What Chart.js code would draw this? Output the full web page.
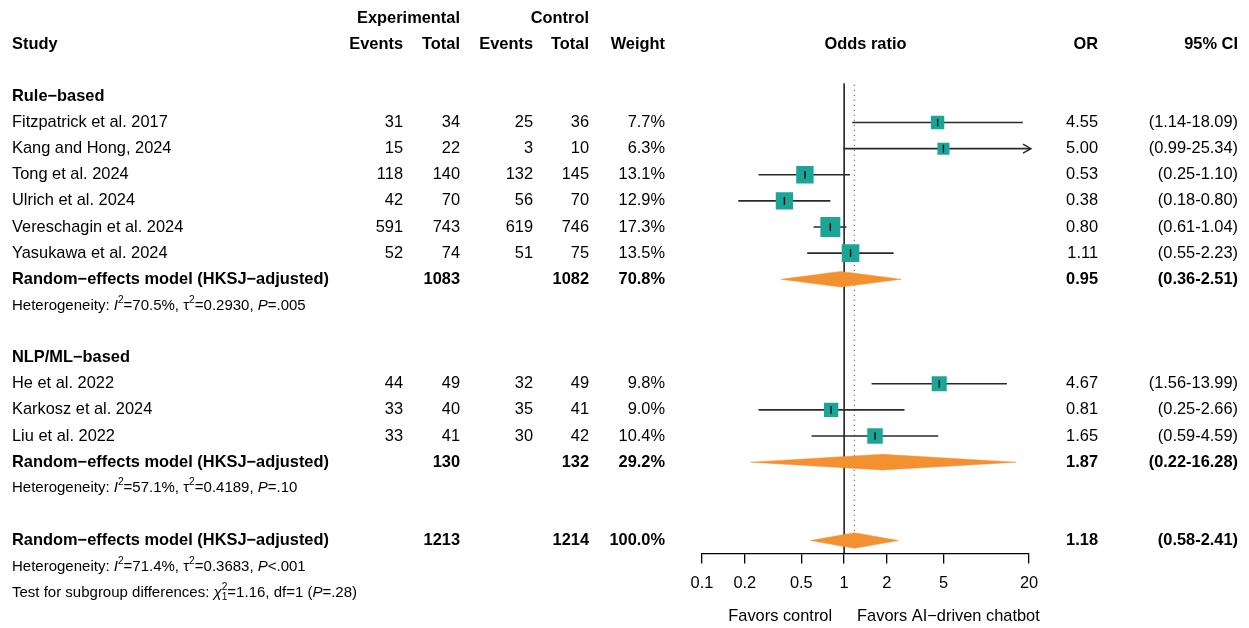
<!DOCTYPE html>
<html>
<head>
<meta charset="utf-8">
<script src="https://cdn.jsdelivr.net/npm/chart.js@4.4.1/dist/chart.umd.min.js"></script>
<style>
  html, body { margin: 0; padding: 0; background: #ffffff; }
  canvas { display: block; }
</style>
</head>
<body>
<canvas id="forest" width="1249" height="628"></canvas>
<script>
// ---- Study-level data ----
const studyNames = [
  'Fitzpatrick et al. 2017', 'Kang and Hong, 2024', 'Tong et al. 2024',
  'Ulrich et al. 2024', 'Vereschagin et al. 2024', 'Yasukawa et al. 2024',
  'He et al. 2022', 'Karkosz et al. 2024', 'Liu et al. 2022'
];
const studyGroup   = [0, 0, 0, 0, 0, 0, 1, 1, 1];
const expEvents    = [31, 15, 118, 42, 591, 52, 44, 33, 33];
const expTotals    = [34, 22, 140, 70, 743, 74, 49, 40, 41];
const ctrlEvents   = [25, 3, 132, 56, 619, 51, 32, 35, 30];
const ctrlTotals   = [36, 10, 145, 70, 746, 75, 49, 41, 42];
const weights      = [7.7, 6.3, 13.1, 12.9, 17.3, 13.5, 9.8, 9.0, 10.4];
const oddsRatios   = [4.55, 5.00, 0.53, 0.38, 0.80, 1.11, 4.67, 0.81, 1.65];
const ciLower      = [1.14, 0.99, 0.25, 0.18, 0.61, 0.55, 1.56, 0.25, 0.59];
const ciUpper      = [18.09, 25.34, 1.10, 0.80, 1.04, 2.23, 13.99, 2.66, 4.59];

// ---- Pooled estimates: [Rule-based, NLP/ML-based, overall] ----
const groupNames        = ['Rule−based', 'NLP/ML−based'];
const pooledLabel       = 'Random−effects model (HKSJ−adjusted)';
const pooledExpTotals   = [1083, 130, 1213];
const pooledCtrlTotals  = [1082, 132, 1214];
const pooledWeights     = [70.8, 29.2, 100.0];
const pooledOR          = [0.95, 1.87, 1.18];
const pooledLower       = [0.36, 0.22, 0.58];
const pooledUpper       = [2.51, 16.28, 2.41];
const hetI2             = ['70.5%', '57.1%', '71.4%'];
const hetTau2           = ['0.2930', '0.4189', '0.3683'];
const hetP              = ['=.005', '=.10', '<.001'];
const testChi2 = '1.16', testDf = '1', testP = '=.28';

// ---- Axis ----
const axisTicks = [0.1, 0.2, 0.5, 1, 2, 5, 20];
const xMin = 0.1, xMax = 20;

// ---- Row layout (row index -> vertical position via the y scale) ----
const studyRow = [], groupHeaderRow = [], pooledRow = [], hetRow = [];
let r = 3;
for (let g = 0; g < groupNames.length; g++) {
  groupHeaderRow.push(r++);
  studyNames.forEach((_, i) => { if (studyGroup[i] === g) studyRow[i] = r++; });
  pooledRow.push(r++);
  hetRow.push(r);
  r += 2;
}
pooledRow.push(r);
hetRow.push(r + 1);
const testRow = r + 2;

const FONT = '"Liberation Sans", Arial, Helvetica, sans-serif';
const FS = 16.4, FS_SMALL = 15;
const SQUARE = '#1ba596', DIAMOND = '#f39130', CI_COLOR = '#2a2a2a';
const DIAMOND_HALF = 0.3;

// column anchors (x pixels, right aligned unless noted)
const COL = { study: 12, expEv: 403, expTot: 460, ctrlEv: 533, ctrlTot: 589, weight: 665, or: 1098, ci: 1238 };

const datasets = [];

// reference lines: no effect (solid) and overall estimate (dotted)
datasets.push({
  data: [{ x: 1, y: 2.5 }, { x: 1, y: 20.5 }],
  showLine: true, borderColor: '#000', borderWidth: 1.4, pointRadius: 0, order: 6
});
datasets.push({
  data: [{ x: pooledOR[2], y: 2.55 }, { x: pooledOR[2], y: pooledRow[2] - DIAMOND_HALF }],
  showLine: true, borderColor: '#666', borderWidth: 1.1, borderDash: [1.3, 3.7], pointRadius: 0, order: 6
});

// confidence intervals
studyNames.forEach((_, i) => {
  datasets.push({
    data: [{ x: Math.max(ciLower[i], xMin), y: studyRow[i] }, { x: Math.min(ciUpper[i], xMax), y: studyRow[i] }],
    showLine: true, borderColor: CI_COLOR, borderWidth: 1.6, pointRadius: 0, order: 3
  });
});

// weighted squares (side proportional to sqrt of weight)
datasets.push({
  data: studyNames.map((_, i) => ({ x: oddsRatios[i], y: studyRow[i] })),
  showLine: false,
  pointStyle: 'rect',
  pointRadius: weights.map(w => 4.8 * Math.sqrt(w) / Math.SQRT2),
  pointBackgroundColor: SQUARE, pointBorderColor: SQUARE, pointBorderWidth: 0,
  order: 2
});

// point-estimate markers
datasets.push({
  data: studyNames.map((_, i) => ({ x: oddsRatios[i], y: studyRow[i] })),
  showLine: false,
  pointStyle: 'line', pointRotation: 90, pointRadius: 3.8,
  pointBorderColor: '#000', pointBorderWidth: 1.3,
  order: 0
});

// pooled diamonds
pooledOR.forEach((est, k) => {
  const row = pooledRow[k];
  datasets.push({
    data: [
      { x: pooledLower[k], y: row },
      { x: est, y: row - DIAMOND_HALF },
      { x: pooledUpper[k], y: row },
      { x: est, y: row + DIAMOND_HALF },
      { x: pooledLower[k], y: row }
    ],
    showLine: true, fill: 'shape', backgroundColor: DIAMOND, borderColor: DIAMOND,
    borderWidth: 0.5, pointRadius: 0, tension: 0, order: 1
  });
});

function drawRich(ctx, parts, x, y, size) {
  ctx.textAlign = 'left';
  for (const p of parts) {
    let fs = size, dy = 0, style = '';
    if (p.t === 'i') style = 'italic ';
    if (p.t === 'sup') { fs = size * 0.68; dy = -size * 0.38; }
    if (p.t === 'sub') { fs = size * 0.68; dy = size * 0.3; }
    ctx.font = `${style}${fs}px ${FONT}`;
    ctx.fillText(p.s, x, y + dy);
    if (!p.stay) x += ctx.measureText(p.s).width;
  }
}

const tablePlugin = {
  id: 'forestTable',
  afterDatasetsDraw(chart) {
    const ctx = chart.ctx, xs = chart.scales.x, ys = chart.scales.y;
    // arrowheads for intervals running past the axis limit
    ctx.save();
    ctx.strokeStyle = CI_COLOR; ctx.lineWidth = 1.4;
    studyNames.forEach((_, i) => {
      const y = ys.getPixelForValue(studyRow[i]);
      if (ciUpper[i] > xMax) {
        const tip = xs.getPixelForValue(xMax) + 2;
        ctx.beginPath();
        ctx.moveTo(tip - 8, y - 4.5); ctx.lineTo(tip, y); ctx.lineTo(tip - 8, y + 4.5);
        ctx.moveTo(tip - 3, y); ctx.lineTo(tip, y);
        ctx.stroke();
      }
    });
    ctx.restore();
  },
  afterDraw(chart) {
    const ctx = chart.ctx, xs = chart.scales.x, ys = chart.scales.y;
    const Y = k => ys.getPixelForValue(k);
    const bold = `bold ${FS}px ${FONT}`, plain = `${FS}px ${FONT}`;
    const txt = (s, x, y, align, font) => { ctx.font = font; ctx.textAlign = align; ctx.fillText(s, x, y); };
    ctx.save();
    ctx.fillStyle = '#000';
    ctx.textBaseline = 'middle';

    // headers
    txt('Experimental', COL.expTot, Y(0), 'right', bold);
    txt('Control', COL.ctrlTot, Y(0), 'right', bold);
    txt('Study', COL.study, Y(1), 'left', bold);
    txt('Events', COL.expEv, Y(1), 'right', bold);
    txt('Total', COL.expTot, Y(1), 'right', bold);
    txt('Events', COL.ctrlEv, Y(1), 'right', bold);
    txt('Total', COL.ctrlTot, Y(1), 'right', bold);
    txt('Weight', COL.weight, Y(1), 'right', bold);
    txt('Odds ratio', (chart.chartArea.left + chart.chartArea.right) / 2, Y(1), 'center', bold);
    txt('OR', COL.or, Y(1), 'right', bold);
    txt('95% CI', COL.ci, Y(1), 'right', bold);

    groupNames.forEach((g, k) => txt(g, COL.study, Y(groupHeaderRow[k]), 'left', bold));

    // study rows
    studyNames.forEach((name, i) => {
      const y = Y(studyRow[i]);
      txt(name, COL.study, y, 'left', plain);
      txt(String(expEvents[i]), COL.expEv, y, 'right', plain);
      txt(String(expTotals[i]), COL.expTot, y, 'right', plain);
      txt(String(ctrlEvents[i]), COL.ctrlEv, y, 'right', plain);
      txt(String(ctrlTotals[i]), COL.ctrlTot, y, 'right', plain);
      txt(weights[i].toFixed(1) + '%', COL.weight, y, 'right', plain);
      txt(oddsRatios[i].toFixed(2), COL.or, y, 'right', plain);
      txt(`(${ciLower[i].toFixed(2)}-${ciUpper[i].toFixed(2)})`, COL.ci, y, 'right', plain);
    });

    // pooled rows and heterogeneity
    pooledOR.forEach((est, k) => {
      const y = Y(pooledRow[k]);
      txt(pooledLabel, COL.study, y, 'left', bold);
      txt(String(pooledExpTotals[k]), COL.expTot, y, 'right', bold);
      txt(String(pooledCtrlTotals[k]), COL.ctrlTot, y, 'right', bold);
      txt(pooledWeights[k].toFixed(1) + '%', COL.weight, y, 'right', bold);
      txt(est.toFixed(2), COL.or, y, 'right', bold);
      txt(`(${pooledLower[k].toFixed(2)}-${pooledUpper[k].toFixed(2)})`, COL.ci, y, 'right', bold);
      drawRich(ctx, [
        { s: 'Heterogeneity: ' }, { s: 'I', t: 'i' }, { s: '2', t: 'sup' },
        { s: '=' + hetI2[k] + ', ' }, { s: 'τ' }, { s: '2', t: 'sup' },
        { s: '=' + hetTau2[k] + ', ' }, { s: 'P', t: 'i' }, { s: hetP[k] }
      ], COL.study, Y(hetRow[k]), FS_SMALL);
    });

    drawRich(ctx, [
      { s: 'Test for subgroup differences: ' }, { s: 'χ', t: 'i' },
      { s: '2', t: 'sup', stay: true }, { s: '1', t: 'sub' },
      { s: '=' + testChi2 + ', df=' + testDf + ' (' }, { s: 'P', t: 'i' }, { s: testP + ')' }
    ], COL.study, Y(testRow), FS_SMALL);

    // direction labels under the axis
    const x1 = xs.getPixelForValue(1);
    txt('Favors control', x1 - 12, 616, 'right', plain);
    txt('Favors AI−driven chatbot', x1 + 13, 616, 'left', plain);
    ctx.restore();
  }
};

Chart.defaults.font.family = FONT;
Chart.defaults.color = '#000';

new Chart(document.getElementById('forest'), {
  type: 'scatter',
  data: { datasets },
  options: {
    responsive: false,
    animation: false,
    devicePixelRatio: 1,
    events: [],
    layout: { autoPadding: false, padding: { left: 702, right: 220, top: 0, bottom: 0 } },
    plugins: { legend: { display: false }, tooltip: { enabled: false } },
    scales: {
      x: {
        type: 'logarithmic',
        position: 'bottom',
        min: xMin, max: xMax,
        afterBuildTicks: s => { s.ticks = axisTicks.map(v => ({ value: v })); },
        afterFit: s => { s.height = 628 - 553.6; },
        grid: { drawOnChartArea: false, drawTicks: true, tickLength: 10, color: '#000', lineWidth: 1.3 },
        border: { display: true, color: '#000', width: 1.3 },
        ticks: {
          autoSkip: false, maxRotation: 0, minRotation: 0, padding: 10,
          color: '#000', font: { size: FS, family: FONT },
          callback: v => String(v)
        }
      },
      y: {
        type: 'linear',
        display: false,
        reverse: true,
        min: -0.69, max: 20.5
      }
    }
  },
  plugins: [tablePlugin]
});
</script>
</body>
</html>
